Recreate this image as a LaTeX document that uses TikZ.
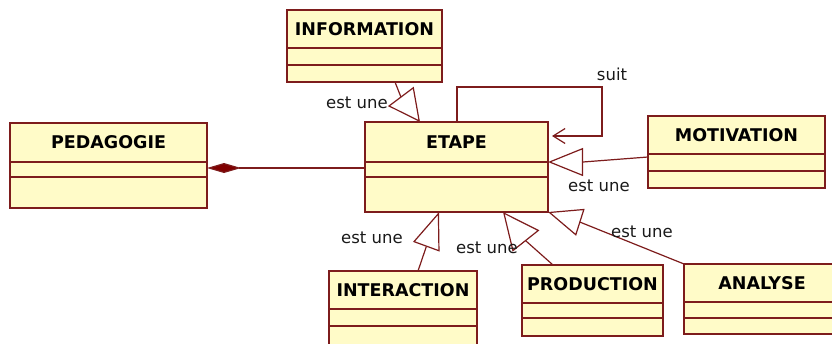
\documentclass[tikz,border=0pt]{standalone}
\usepackage{fontspec}
\setmainfont{DejaVu Sans}
\usetikzlibrary{arrows.meta,calc}

\definecolor{umlfill}{RGB}{255,251,200}
\definecolor{umlline}{RGB}{125,28,28}
\definecolor{umldiamond}{RGB}{128,0,0}

\tikzset{
  classbox/.style={draw=umlline, fill=umlfill, line width=1.4pt, anchor=north west,
    inner sep=0pt, outer sep=0pt},
  classtitle/.style={font=\fontsize{17.5}{20}\selectfont\bfseries, text=black, inner sep=0pt},
  divider/.style={draw=umlline, line width=1.4pt},
  assoc/.style={draw=umlline, line width=1.2pt},
  composition/.style={assoc, {Diamond[fill=umldiamond, length=34pt, width=10pt]}-},
  gen/.style={assoc, -{Triangle[open, fill=white, length=#1]}},
  selfref/.style={assoc, -{Straight Barb[length=12pt, width=15pt]}},
  rolelabel/.style={font=\fontsize{16.5}{18}\selectfont, text=black!90, inner sep=0pt}
}

% \umlclass{name}{x1}{y1}{x2}{y2}{divider 1}{divider 2}{title}
\newcommand\umlclass[8]{%
  \node[classbox, minimum width={(#4-#2)*1pt}, minimum height={(#5-#3)*1pt}] (#1) at (#2,#3) {};
  \draw[divider] (#1.west |- 0,#6) -- (#1.east |- 0,#6);
  \draw[divider] (#1.west |- 0,#7) -- (#1.east |- 0,#7);
  \node[classtitle] (#1-title) at ($(#1.north)!0.5!(#1.north |- 0,#6)$) {#8};
}

\begin{document}
\begin{tikzpicture}[x=1pt, y=-1pt]
  \useasboundingbox (0,0) rectangle (832,343);
  \clip (0,0) rectangle (832,343);

  % classes
  \umlclass{information}{287}{10}{442}{82}{48}{65}{INFORMATION}
  \umlclass{pedagogie}{10}{123}{207}{208}{162}{177}{PEDAGOGIE}
  \umlclass{etape}{365}{122}{548}{212}{162}{177}{ETAPE}
  \umlclass{motivation}{648}{116}{825}{188}{154}{171}{MOTIVATION}
  \umlclass{interaction}{329}{271}{477}{346}{309}{326}{INTERACTION}
  \umlclass{production}{522}{265}{663}{336}{303}{318}{PRODUCTION}
  \umlclass{analyse}{684}{264}{840}{334}{302}{318}{ANALYSE}

  % composition PEDAGOGIE <>-- ETAPE
  \draw[composition] (pedagogie.east |- 0,168) -- (etape.west |- 0,168);

  % ETAPE suit ETAPE
  \draw[selfref] (etape.north -| 457,0) -- (457,87) -- (602,87) -- (602,136)
    -- ($(etape.east |- 0,136)+(4,0)$);
  \node[rolelabel] (suit) at (612,74) {suit};

  % generalisations "est une"
  \draw[gen={32pt, width=32pt}] (information.south -| 395,0) -- (400.5,96)
    -- (etape.north -| 420,0);
  \node[rolelabel] (lbl-information) at (357,103) {est une};

  \draw[gen={35pt, width=28pt}] (motivation.west |- 0,157) -- (583,162)
    -- (etape.east |- 0,162);
  \node[rolelabel] (lbl-motivation) at (599,186) {est une};

  \draw[gen={37pt, width=28pt}] (interaction.north -| 418,0) -- (426,247.5)
    -- (etape.south -| 439,0);
  \node[rolelabel] (lbl-interaction) at (372,238) {est une};

  \draw[gen={37pt, width=34pt}] (production.north -| 553,0) -- (526,241)
    -- (etape.south -| 503,0);
  \node[rolelabel] (lbl-production) at (487,248) {est une};

  \draw[gen={34pt, width=28pt}] (analyse.north west) -- (581,222.5)
    -- (etape.south east);
  \node[rolelabel] (lbl-analyse) at (642,232) {est une};
\end{tikzpicture}
\end{document}
